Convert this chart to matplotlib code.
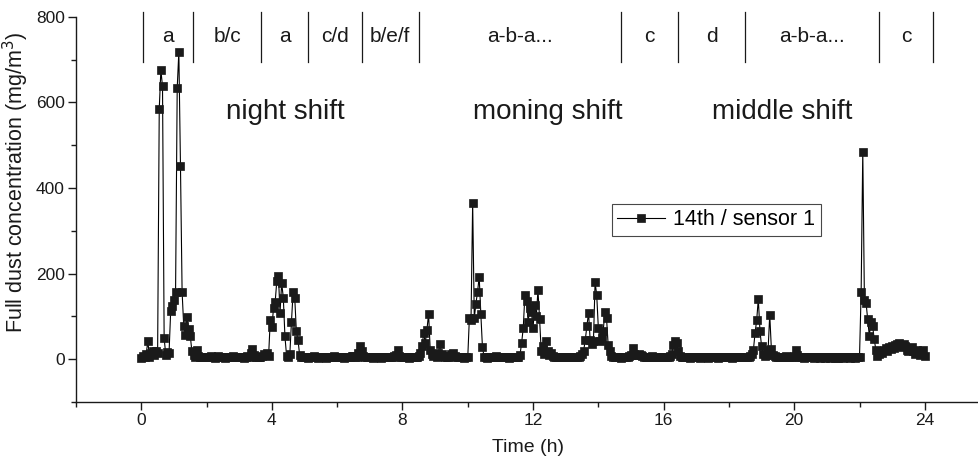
import numpy as np
import matplotlib
matplotlib.use("Agg")
import matplotlib.pyplot as plt
from matplotlib.ticker import MultipleLocator

plt.rcParams['font.family'] = ['Liberation Sans', 'DejaVu Sans']

# Sensor 1 readings on the 14th, one sample every 3 minutes (mg/m^3)
SAMPLE_STEP_H = 0.05

night_shift = [
    3, 8, 5, 12, 42, 6, 15, 18, 10, 20, 14, 585, 675, 637, 49, 10, 16, 15, 112, 125,
    139, 158, 633, 718, 452, 157, 77, 57, 98, 70, 55, 18, 9, 6, 22, 8, 5, 4, 6, 5,
    5, 4, 6, 8, 5, 3, 4, 7, 6, 5, 4, 3, 5, 6, 4, 5, 7, 6, 4, 5,
    4, 6, 5, 3, 5, 8, 6, 14, 24, 10, 5, 4, 6, 5, 8, 12, 9, 15, 8, 91,
    75, 119, 133, 182, 195, 109, 178, 144, 53, 8, 5, 12, 88, 156, 144, 65, 45, 10, 6, 4,
    5, 4, 3, 6, 5, 4, 7, 5, 3, 4, 6, 5, 4, 3, 5, 6, 4, 5, 7, 5,
    4, 5, 6, 4, 3, 5, 6, 4, 5, 7, 8, 6, 5, 15, 30, 18, 8, 5, 4, 6,
    5, 4, 3, 5, 6, 4, 5, 3, 4, 6, 5, 4, 5, 6, 5, 7, 9, 22, 8, 5,
]

morning_shift = [
    5, 4, 6, 5, 3, 4, 5, 4, 6, 5, 8, 15, 30, 61, 38, 69, 106, 22, 12, 8,
    10, 6, 14, 36, 12, 8, 5, 6, 4, 8, 12, 15, 8, 5, 4, 6, 5, 4, 3, 5,
    4, 97, 92, 365, 96, 130, 157, 193, 106, 28, 6, 4, 3, 5, 4, 6, 5, 7, 5, 4,
    5, 4, 6, 5, 4, 3, 5, 4, 6, 5, 4, 6, 10, 38, 73, 150, 135, 88, 119, 110,
    73, 127, 100, 161, 95, 18, 30, 12, 43, 20, 10, 15, 8, 6, 5, 4, 6, 5, 4, 5,
    5, 4, 6, 5, 4, 5, 6, 4, 5, 8, 12, 20, 45, 78, 108, 44, 35, 42, 180, 150,
    73, 42, 50, 67, 110, 97, 34, 20, 8, 5, 4, 6, 5, 4, 3, 5, 6, 4, 5, 8,
    10, 26, 12, 10, 9, 11, 10, 8, 6, 5, 6, 4, 5, 7, 5, 4, 6, 5, 4, 5,
]

middle_shift = [
    5, 4, 6, 5, 8, 12, 34, 42, 38, 18, 8, 5, 4, 6, 5, 4, 3, 5, 4, 5,
    4, 5, 3, 4, 6, 5, 4, 3, 5, 4, 6, 5, 4, 3, 4, 5, 4, 6, 5, 4,
    5, 4, 3, 5, 4, 6, 5, 4, 5, 6, 5, 6, 5, 8, 12, 22, 61, 91, 141, 67,
    30, 12, 8, 10, 22, 104, 24, 10, 8, 6, 5, 6, 4, 5, 6, 8, 5, 4, 6, 5,
    8, 22, 10, 6, 5, 4, 3, 5, 4, 6, 5, 4, 3, 4, 5, 4, 3, 5, 4, 3,
    4, 5, 3, 4, 5, 3, 4, 2, 4, 5, 3, 4, 5, 4, 3, 5, 4, 3, 4, 5,
    6, 158, 485, 139, 132, 94, 55, 88, 78, 47, 22, 8, 12, 18, 15, 22, 26, 20, 28, 24,
    30, 25, 32, 35, 38, 33, 28, 35, 30, 22, 18, 25, 28, 20, 12, 22, 18, 10, 14, 22,
    8,
]

# Working-phase boundaries (h) and the operation codes between them
phase_bounds = [0.05, 1.58, 3.68, 5.1, 6.75, 8.5, 14.7, 16.45, 18.5, 22.6, 24.25]
phase_labels = ['a', 'b/c', 'a', 'c/d', 'b/e/f', 'a-b-a...', 'c', 'd', 'a-b-a...', 'c']

shift_names = ['night shift', 'moning shift', 'middle shift']

conc = np.array(night_shift + morning_shift + middle_shift, dtype=float)
hours = np.arange(len(conc)) * SAMPLE_STEP_H

INK = '#1a1a1a'

fig = plt.figure(figsize=(9.79, 4.67), dpi=100)
ax = fig.add_axes([76 / 979, 65 / 467, 1 - 76 / 979, (402 - 16.7) / 467])

ax.plot(hours, conc, color='black', lw=0.8, marker='s', ms=5.3,
        mfc=INK, mec=INK, mew=0.5, label='14th / sensor 1')

ax.set_xlim(-2, 25.66)
ax.set_ylim(-100, 800)
ax.xaxis.set_major_locator(MultipleLocator(4))
ax.xaxis.set_minor_locator(MultipleLocator(2))
ax.yaxis.set_major_locator(MultipleLocator(200))
ax.yaxis.set_minor_locator(MultipleLocator(100))

for side in ('top', 'right'):
    ax.spines[side].set_visible(False)
for side in ('left', 'bottom'):
    ax.spines[side].set_linewidth(1.0)
    ax.spines[side].set_color(INK)

ax.tick_params(which='major', direction='out', length=6, width=1.0,
               labelsize=12.5, colors=INK, pad=2)
ax.tick_params(which='minor', direction='out', length=3.5, width=1.0, colors=INK)

ax.set_xlabel('Time (h)', fontsize=14, color=INK, labelpad=8)
ax.set_ylabel('Full dust concentration (mg/m$^3$)', fontsize=15.5, color=INK)
ax.yaxis.set_label_coords(-0.050, 0.57)

# Phase separators and codes along the top
for b in phase_bounds:
    ax.plot([b, b], [694, 810], color=INK, lw=0.9, clip_on=False)
for left, right, lab in zip(phase_bounds[:-1], phase_bounds[1:], phase_labels):
    ax.text((left + right) / 2, 741, lab, ha='center', va='baseline',
            fontsize=15, color=INK)

for name, xc in zip(shift_names, [4.41, 12.46, 19.64]):
    ax.text(xc, 562, name, ha='center', va='baseline', fontsize=20, color=INK)

leg = ax.legend(loc='upper left', bbox_to_anchor=(612 / 979, 1 - 204 / 467),
                bbox_transform=fig.transFigure, frameon=True, fancybox=False,
                edgecolor=INK, fontsize=15.5, handlelength=2.2, handletextpad=0.4,
                borderpad=0.25, borderaxespad=0)
leg.get_frame().set_linewidth(0.8)

fig.savefig('out.png', dpi=100)
